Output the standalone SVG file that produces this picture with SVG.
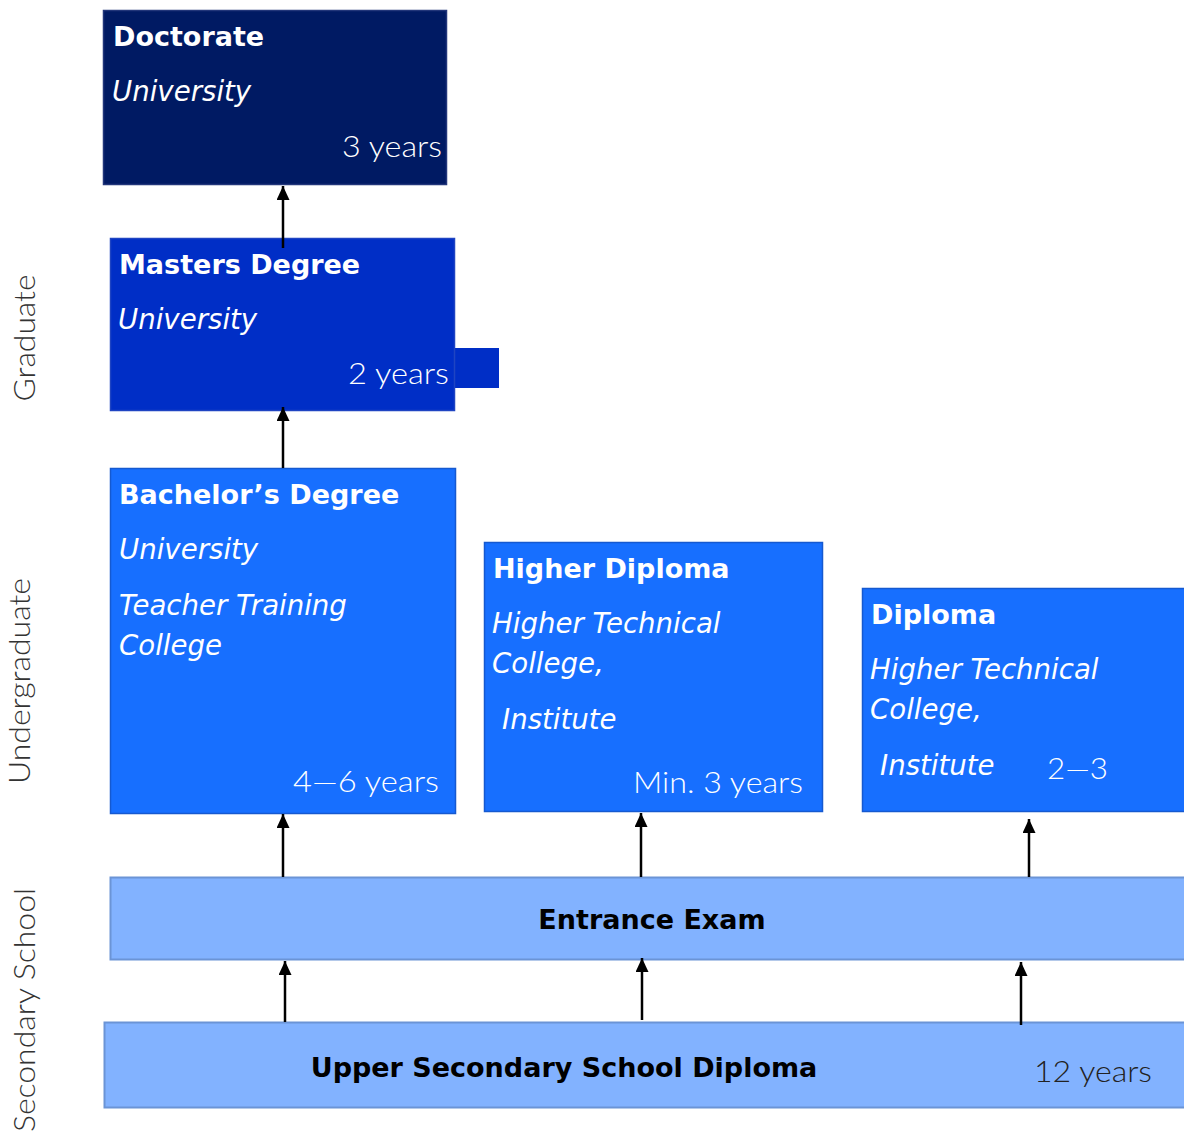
<svg xmlns="http://www.w3.org/2000/svg" width="1184" height="1133" viewBox="0 0 1184 1133">
<style>
.t{font-family:"DejaVu Sans",Verdana,sans-serif;font-weight:bold;font-size:27px;fill:#fff}
.i{font-family:"DejaVu Sans",Verdana,sans-serif;font-style:oblique;font-size:27.6px;fill:#fff}
.y{font-family:Lato,"Open Sans",sans-serif;font-weight:300;font-size:29px;fill:#fff}
.side{font-family:Lato,"Open Sans",sans-serif;font-weight:300;font-size:29px;fill:#333}
.k{font-family:"DejaVu Sans",Verdana,sans-serif;font-weight:bold;font-size:27px;fill:#000}
.c{stroke:#000;stroke-width:2.5;fill:none;marker-end:url(#ah)}
</style>
<defs>
<marker id="ah" viewBox="0 0 14 13" refX="14" refY="6.5" markerWidth="14" markerHeight="13" markerUnits="userSpaceOnUse" orient="auto">
<path d="M0,0 L14,6.5 L0,13 Z" fill="#000"/>
</marker>
</defs>
<rect width="1184" height="1133" fill="#fff"/>
<g id="side-labels">
<text class="side" transform="translate(35,338) rotate(-90)" text-anchor="middle" textLength="127" lengthAdjust="spacingAndGlyphs">Graduate</text>
<text class="side" transform="translate(30,681) rotate(-90)" text-anchor="middle" textLength="206" lengthAdjust="spacingAndGlyphs">Undergraduate</text>
<text class="side" transform="translate(35,1010) rotate(-90)" text-anchor="middle" textLength="244" lengthAdjust="spacingAndGlyphs">Secondary School</text>
</g>
<g id="doctorate">
<rect x="103.5" y="10.5" width="343" height="174" fill="#001a63" stroke="#22367a" stroke-width="1.5"/>
<text class="t" x="113" y="46">Doctorate</text>
<text class="i" x="112" y="101">University</text>
<text class="y" x="342" y="157" textLength="100" lengthAdjust="spacingAndGlyphs">3 years</text>
</g>
<g id="masters">
<rect x="455" y="348" width="44" height="40" fill="#002ec6"/>
<rect x="110.5" y="238.5" width="344" height="172" fill="#002ec6" stroke="#1f44c2" stroke-width="1.5"/>
<text class="t" x="119" y="274">Masters Degree</text>
<text class="i" x="118" y="329">University</text>
<text class="y" x="348" y="384" textLength="101" lengthAdjust="spacingAndGlyphs">2 years</text>
</g>
<g id="bachelor">
<rect x="110.5" y="468.5" width="345" height="345" fill="#176fff" stroke="#1559d0" stroke-width="1.5"/>
<text class="t" x="119" y="504">Bachelor’s Degree</text>
<text class="i" x="119" y="559">University</text>
<text class="i" x="119" y="615">Teacher Training</text>
<text class="i" x="119" y="655">College</text>
<text class="y" x="293" y="792" textLength="146" lengthAdjust="spacingAndGlyphs">4—6 years</text>
</g>
<g id="higher-diploma">
<rect x="484.5" y="542.5" width="338" height="269" fill="#176fff" stroke="#1559d0" stroke-width="1.5"/>
<text class="t" x="493" y="578">Higher Diploma</text>
<text class="i" x="492" y="633">Higher Technical</text>
<text class="i" x="492" y="673">College,</text>
<text class="i" x="502" y="729">Institute</text>
<text class="y" x="633" y="793" textLength="170" lengthAdjust="spacingAndGlyphs">Min. 3 years</text>
</g>
<g id="diploma">
<rect x="862.5" y="588.5" width="330" height="223" fill="#176fff" stroke="#1559d0" stroke-width="1.5"/>
<text class="t" x="871" y="624">Diploma</text>
<text class="i" x="870" y="679">Higher Technical</text>
<text class="i" x="870" y="719">College,</text>
<text class="i" x="880" y="775">Institute</text>
<text class="y" x="1047" y="779" textLength="61" lengthAdjust="spacingAndGlyphs">2—3</text>
</g>
<g id="entrance-exam">
<rect x="110.5" y="877.5" width="1085" height="82" fill="#82b2ff" stroke="#6b94d6" stroke-width="2"/>
<text class="k" x="652" y="929" text-anchor="middle">Entrance Exam</text>
</g>
<g id="upper-secondary">
<rect x="104.5" y="1022.5" width="1091" height="85" fill="#82b2ff" stroke="#6b94d6" stroke-width="2"/>
<text class="k" x="564" y="1077" text-anchor="middle">Upper Secondary School Diploma</text>
<text class="y" x="1034" y="1082" textLength="118" lengthAdjust="spacingAndGlyphs" style="fill:#222">12 years</text>
</g>
<g id="connectors">
<path class="c" d="M283,248 V186"/>
<path class="c" d="M283,468 V407"/>
<path class="c" d="M283,877 V814"/>
<path class="c" d="M641,877 V813"/>
<path class="c" d="M1029,877 V819"/>
<path class="c" d="M285,1022 V961"/>
<path class="c" d="M642,1020 V958"/>
<path class="c" d="M1021,1025 V962"/>
</g>
</svg>
